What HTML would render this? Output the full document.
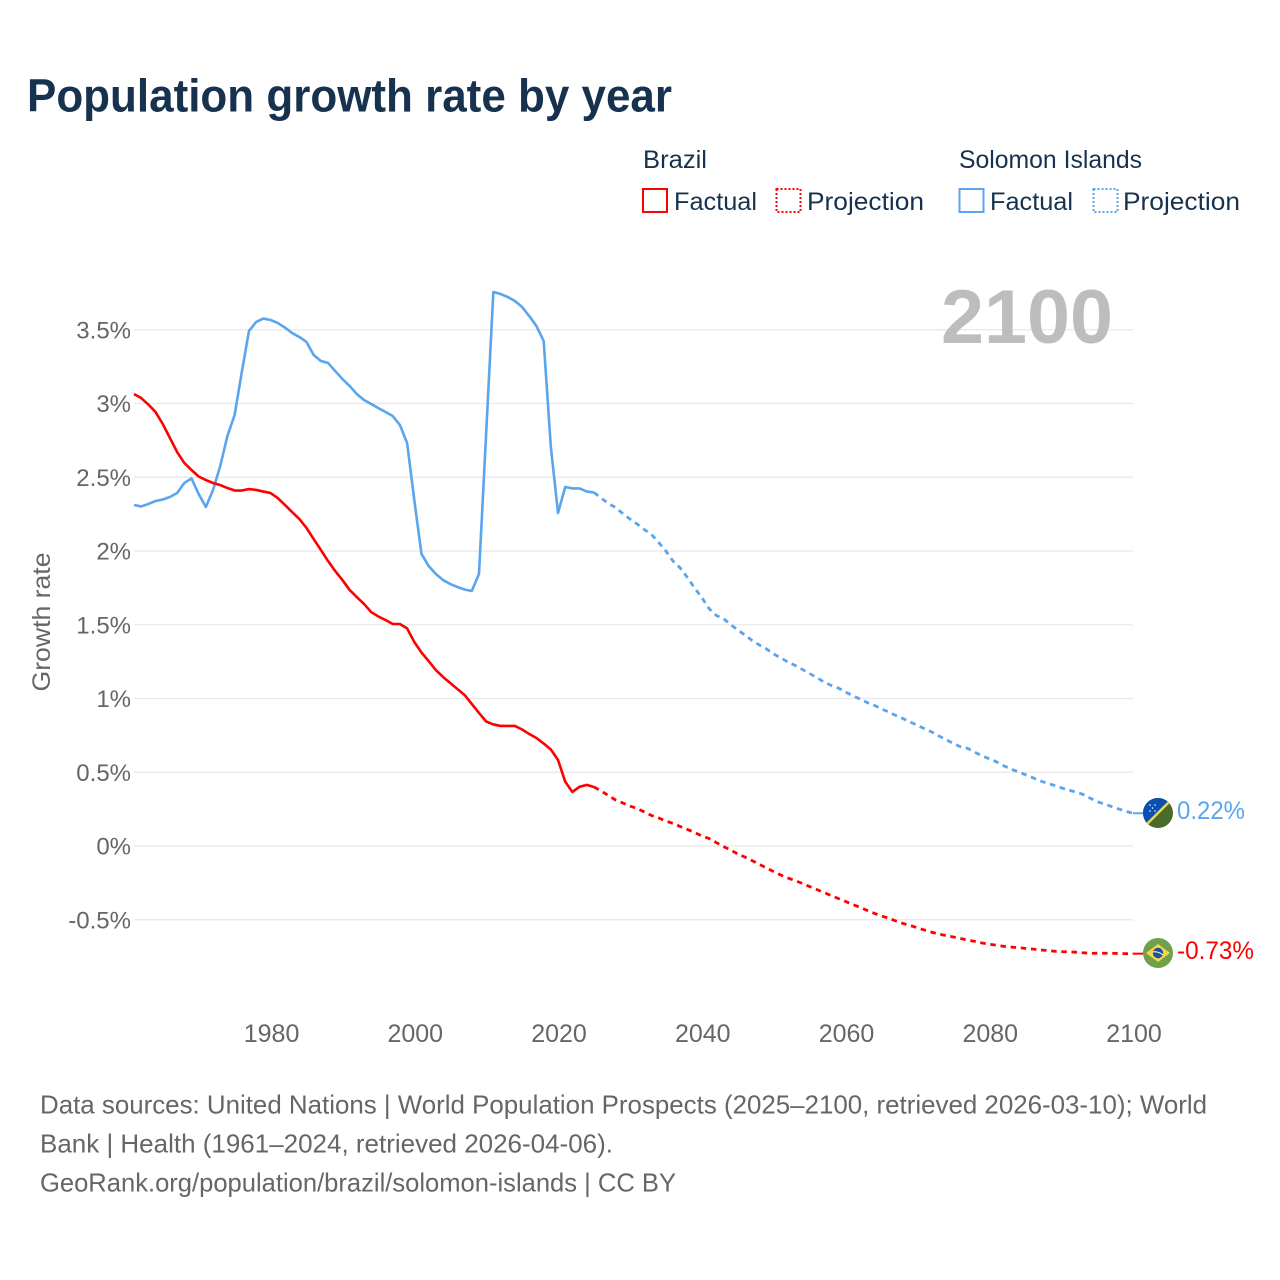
<!DOCTYPE html>
<html lang="en">
<head>
<meta charset="utf-8">
<title>Population growth rate by year</title>
<style>
html,body{margin:0;padding:0;background:#fff;width:1280px;height:1280px;overflow:hidden}
svg{display:block}
text{font-family:"Liberation Sans",sans-serif}
</style>
</head>
<body>
<svg id="chart" xmlns="http://www.w3.org/2000/svg" width="1280" height="1280" viewBox="0 0 1280 1280">
  <rect x="0" y="0" width="1280" height="1280" fill="#fff"/>
  <text x="27" y="111.5" font-size="46" font-weight="700" fill="#17324f" textLength="645" lengthAdjust="spacingAndGlyphs">Population growth rate by year</text>

  <g font-size="25" fill="#17324f">
    <text x="643" y="168" textLength="64" lengthAdjust="spacingAndGlyphs">Brazil</text>
    <rect x="643" y="189" width="24" height="23" fill="none" stroke="#ff0000" stroke-width="2"/>
    <text x="674" y="210" textLength="83" lengthAdjust="spacingAndGlyphs">Factual</text>
    <rect x="776.5" y="189" width="24" height="23" fill="none" stroke="#ff0000" stroke-width="2" stroke-dasharray="2 2"/>
    <text x="807" y="210" textLength="117" lengthAdjust="spacingAndGlyphs">Projection</text>
    <text x="959" y="168" textLength="183" lengthAdjust="spacingAndGlyphs">Solomon Islands</text>
    <rect x="959.5" y="189" width="24" height="23" fill="none" stroke="#5ba4ee" stroke-width="2"/>
    <text x="990" y="210" textLength="83" lengthAdjust="spacingAndGlyphs">Factual</text>
    <rect x="1093.5" y="189" width="24" height="23" fill="none" stroke="#5ba4ee" stroke-width="2" stroke-dasharray="2 2"/>
    <text x="1123" y="210" textLength="117" lengthAdjust="spacingAndGlyphs">Projection</text>
  </g>

  <g id="grid"></g>
  <g id="yticks"></g>
  <g id="xticks"></g>

  <text x="941" y="343" font-size="76" font-weight="700" fill="#bdbdbd" textLength="172" lengthAdjust="spacingAndGlyphs">2100</text>
  <text transform="translate(50,622) rotate(-90)" text-anchor="middle" font-size="25" fill="#666" textLength="139" lengthAdjust="spacingAndGlyphs">Growth rate</text>

  <g id="series"></g>

  <g>
    <clipPath id="clipSolomon"><circle cx="1158" cy="813" r="15"/></clipPath>
    <g clip-path="url(#clipSolomon)">
      <rect x="1143" y="798" width="30" height="30" fill="#4a6b2c"/>
      <polygon points="1143,798 1173,798 1143,828" fill="#0b50b0"/>
      <line x1="1143" y1="828" x2="1173" y2="798" stroke="#f0d93f" stroke-width="2.4"/>
      <circle cx="1150" cy="805" r="0.8" fill="#fff"/>
      <circle cx="1155" cy="805" r="0.8" fill="#fff"/>
      <circle cx="1152.5" cy="808" r="0.8" fill="#fff"/>
      <circle cx="1150" cy="811" r="0.8" fill="#fff"/>
      <circle cx="1155" cy="811" r="0.8" fill="#fff"/>
    </g>
  </g>
  <g>
    <circle cx="1158" cy="953" r="15" fill="#6fa14a"/>
    <polygon points="1146,953 1158,944 1170,953 1158,962" fill="#f2d64b"/>
    <circle cx="1158" cy="953" r="5.2" fill="#1f4f99"/>
    <path d="M1153,952 Q1158,951 1163,955" stroke="#fff" stroke-width="1" fill="none"/>
  </g>

  <text x="1177" y="819" font-size="25" fill="#5ba4ee" textLength="68" lengthAdjust="spacingAndGlyphs">0.22%</text>
  <text x="1177" y="959" font-size="25" fill="#ff0000" textLength="77" lengthAdjust="spacingAndGlyphs">-0.73%</text>

  <g font-size="26" fill="#666">
    <text x="40" y="1113.5" textLength="1167" lengthAdjust="spacingAndGlyphs">Data sources: United Nations | World Population Prospects (2025–2100, retrieved 2026-03-10); World</text>
    <text x="40" y="1152.5" textLength="573" lengthAdjust="spacingAndGlyphs">Bank | Health (1961–2024, retrieved 2026-04-06).</text>
    <text x="40" y="1191.5" textLength="636" lengthAdjust="spacingAndGlyphs">GeoRank.org/population/brazil/solomon-islands | CC BY</text>
  </g>
</svg>

<script>
const yTickValues = [3.5, 3, 2.5, 2, 1.5, 1, 0.5, 0, -0.5];
const yTickLabels = ["3.5%", "3%", "2.5%", "2%", "1.5%", "1%", "0.5%", "0%", "-0.5%"];
const xTickYears = [1980, 2000, 2020, 2040, 2060, 2080, 2100];
const factualStartYear = 1961;
const projectionStartYear = 2025;

const solomonFactual = [2.312,2.302,2.319,2.339,2.349,2.366,2.393,2.461,2.492,2.386,
  2.298,2.414,2.576,2.78,2.922,3.214,3.492,3.553,3.576,3.566,
  3.546,3.515,3.478,3.451,3.417,3.329,3.288,3.275,3.22,3.166,
  3.119,3.064,3.024,2.997,2.969,2.942,2.915,2.854,2.732,2.346,
  1.98,1.898,1.844,1.803,1.776,1.756,1.739,1.729,1.844,2.8,
  3.756,3.742,3.722,3.695,3.654,3.593,3.525,3.424,2.705,2.258,
  2.434,2.424,2.424,2.403,2.397];
const solomonProjection = [2.397,2.359,2.322,2.295,2.254,2.217,2.183,2.146,2.112,2.058,
  2.0,1.932,1.885,1.82,1.749,1.685,1.61,1.563,1.542,1.502,
  1.464,1.431,1.393,1.363,1.336,1.302,1.275,1.247,1.224,1.197,
  1.169,1.142,1.112,1.089,1.071,1.044,1.019,0.997,0.973,0.954,
  0.93,0.908,0.885,0.864,0.841,0.818,0.795,0.773,0.746,0.721,
  0.695,0.673,0.662,0.635,0.612,0.591,0.571,0.544,0.522,0.503,
  0.484,0.464,0.443,0.426,0.412,0.395,0.38,0.366,0.351,0.325,
  0.301,0.285,0.268,0.251,0.235,0.222];
const brazilFactual = [3.064,3.037,2.993,2.942,2.861,2.766,2.671,2.597,2.549,2.505,
  2.481,2.461,2.447,2.427,2.41,2.41,2.42,2.414,2.403,2.393,
  2.359,2.312,2.264,2.217,2.156,2.081,2.007,1.932,1.864,1.803,
  1.736,1.688,1.641,1.586,1.556,1.532,1.505,1.505,1.475,1.383,
  1.312,1.254,1.193,1.146,1.105,1.064,1.024,0.963,0.902,0.844,
  0.824,0.814,0.814,0.814,0.79,0.759,0.732,0.695,0.654,0.583,
  0.436,0.366,0.402,0.414,0.4];
const brazilProjection = [0.4,0.373,0.342,0.312,0.292,0.271,0.254,0.231,0.207,0.19,
  0.169,0.153,0.132,0.112,0.092,0.068,0.051,0.024,-0.003,-0.027,
  -0.054,-0.075,-0.099,-0.124,-0.149,-0.174,-0.197,-0.217,-0.235,-0.254,
  -0.275,-0.295,-0.315,-0.336,-0.356,-0.376,-0.397,-0.415,-0.437,-0.456,
  -0.475,-0.489,-0.508,-0.525,-0.539,-0.555,-0.57,-0.585,-0.597,-0.607,
  -0.617,-0.627,-0.638,-0.647,-0.658,-0.666,-0.673,-0.68,-0.685,-0.689,
  -0.694,-0.698,-0.705,-0.708,-0.713,-0.717,-0.717,-0.72,-0.724,-0.727,
  -0.727,-0.727,-0.727,-0.729,-0.73,-0.73];

const NS = "http://www.w3.org/2000/svg";
const plotLeft = 134, plotRight = 1133;
function xScale(year) { return plotLeft + (year - 1961) * (plotRight - plotLeft) / 139; }
function yScale(value) { return 846 - value * 147.5; }

function make(tag, attrs, parent) {
  const el = document.createElementNS(NS, tag);
  for (const k in attrs) el.setAttribute(k, attrs[k]);
  parent.appendChild(el);
  return el;
}

const gridGroup = document.getElementById("grid");
const yTickGroup = document.getElementById("yticks");
yTickValues.forEach(function (v, i) {
  const line = make("line", {x1: plotLeft, x2: plotRight, y1: yScale(v), y2: yScale(v), stroke: "#e8e8e8", "stroke-width": 1.3}, gridGroup);
  
  
  const label = make("text", {x: 131, y: yScale(v) + 8.5, "text-anchor": "end", "font-size": 24, fill: "#666"}, yTickGroup);
  label.textContent = yTickLabels[i];
  
  
});

const xTickGroup = document.getElementById("xticks");
xTickYears.forEach(function (yr) {
  const label = make("text", {x: xScale(yr) + 1, y: 1042, "text-anchor": "middle", "font-size": 25, fill: "#666"}, xTickGroup);
  label.textContent = String(yr);
  
  
});

function pathFrom(values, startYear) {
  return values.map(function (v, i) {
    return (i ? "L" : "M") + xScale(startYear + i).toFixed(2) + " " + yScale(v).toFixed(2);
  }).join(" ");
}

const seriesGroup = document.getElementById("series");

const solomonFactualLine = make("path", {d: pathFrom(solomonFactual, factualStartYear), fill: "none", stroke: "#5ba4ee", "stroke-width": 2.6, "stroke-linejoin": "round"}, seriesGroup);



const solomonProjectionLine = make("path", {d: pathFrom(solomonProjection, projectionStartYear), fill: "none", stroke: "#5ba4ee", "stroke-width": 2.8, "stroke-dasharray": "5.5 4.7"}, seriesGroup);



const brazilFactualLine = make("path", {d: pathFrom(brazilFactual, factualStartYear), fill: "none", stroke: "#ff0000", "stroke-width": 2.6, "stroke-linejoin": "round"}, seriesGroup);



const brazilProjectionLine = make("path", {d: pathFrom(brazilProjection, projectionStartYear), fill: "none", stroke: "#ff0000", "stroke-width": 2.8, "stroke-dasharray": "5.5 4.7"}, seriesGroup);



const solomonLeader = make("line", {x1: xScale(2100), y1: yScale(solomonProjection[solomonProjection.length - 1]), x2: 1143, y2: yScale(solomonProjection[solomonProjection.length - 1]), stroke: "#5ba4ee", "stroke-width": 2}, seriesGroup);



const brazilLeader = make("line", {x1: xScale(2100), y1: yScale(brazilProjection[brazilProjection.length - 1]), x2: 1143, y2: yScale(brazilProjection[brazilProjection.length - 1]), stroke: "#ff0000", "stroke-width": 2}, seriesGroup);


</script>
</body>
</html>
